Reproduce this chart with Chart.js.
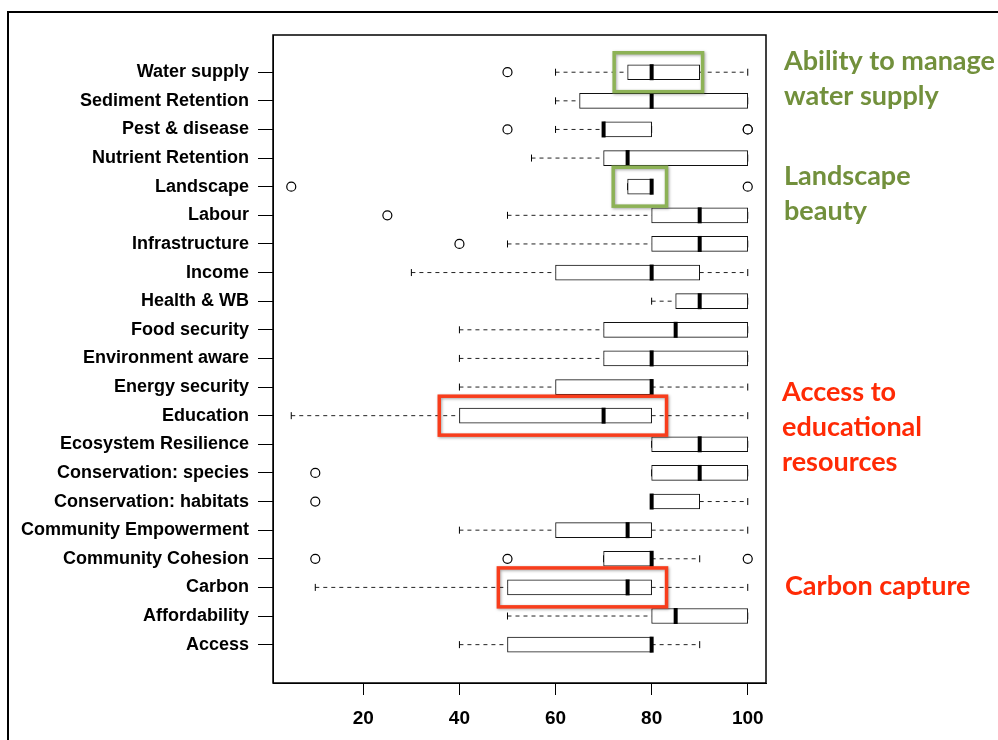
<!DOCTYPE html>
<html>
<head>
<meta charset="utf-8">
<script src="https://cdn.jsdelivr.net/npm/chart.js@4.4.0/dist/chart.umd.min.js"></script>
<style>
body { margin: 0; background: #fff; }
#c { display: block; }
</style>
</head>
<body>
<canvas id="c" width="998" height="740"></canvas>
<script>
// rows listed top to bottom, as in the picture
var categories = ['Water supply', 'Sediment Retention', 'Pest & disease', 'Nutrient Retention', 'Landscape',
  'Labour', 'Infrastructure', 'Income', 'Health & WB', 'Food security', 'Environment aware',
  'Energy security', 'Education', 'Ecosystem Resilience', 'Conservation: species',
  'Conservation: habitats', 'Community Empowerment', 'Community Cohesion', 'Carbon',
  'Affordability', 'Access'];
var whiskerLow  = [60, 60, 60, 55, 75, 50, 50, 30, 80, 40, 40, 40, 5, 80, 80, 80, 40, 70, 10, 50, 40];
var q1          = [75, 65, 70, 70, 75, 80, 80, 60, 85, 70, 70, 60, 40, 80, 80, 80, 60, 70, 50, 80, 50];
var medians     = [80, 80, 70, 75, 80, 90, 90, 80, 90, 85, 80, 80, 70, 90, 90, 80, 75, 80, 75, 85, 80];
var q3          = [90, 100, 80, 100, 80, 100, 100, 90, 100, 100, 100, 80, 80, 100, 100, 90, 80, 80, 80, 100, 80];
var whiskerHigh = [100, 100, 80, 100, 80, 100, 100, 100, 100, 100, 100, 100, 100, 100, 100, 100, 100, 90, 100, 100, 90];
var outliers    = [[50], [], [50, 100, 100], [], [5, 100], [25], [40], [], [], [], [], [], [], [], [10], [10], [], [10, 50, 100], [], [], []];
var xTicks = [20, 40, 60, 80, 100];

// highlighted rows and notes
var highlights = [
  { row: 'Water supply', from: 72.2, to: 90.6, color: '#8db256' },
  { row: 'Landscape', from: 72.0, to: 83.1, color: '#8db256' },
  { row: 'Education', from: 35.8, to: 83.1, color: '#f83d1c' },
  { row: 'Carbon', from: 48.1, to: 83.1, color: '#f83d1c' }
];
var notes = [
  { lines: ['Ability to manage', 'water supply'], color: '#72903c', x: 784, y: 70 },
  { lines: ['Landscape', 'beauty'], color: '#72903c', x: 784, y: 185 },
  { lines: ['Access to', 'educational', 'resources'], color: '#ff2a05', x: 782, y: 401 },
  { lines: ['Carbon capture'], color: '#ff2a05', x: 785, y: 595 }
];

var n = categories.length;
function rowOf(i) { return n - i; }

var boxData = [], medData = [], capData = [], whiskData = [], outData = [];
categories.forEach(function(c, i) {
  var r = rowOf(i);
  boxData.push({ x: [q1[i], q3[i]], y: r });
  medData.push({ x: medians[i], y: r });
  capData.push({ x: whiskerLow[i], y: r });
  capData.push({ x: whiskerHigh[i], y: r });
  if (whiskerLow[i] < q1[i]) {
    whiskData.push({ x: whiskerLow[i], y: r }, { x: q1[i], y: r }, { x: q1[i], y: null });
  }
  if (whiskerHigh[i] > q3[i]) {
    whiskData.push({ x: q3[i], y: r }, { x: whiskerHigh[i], y: r }, { x: whiskerHigh[i], y: null });
  }
  outliers[i].forEach(function(v) { outData.push({ x: v, y: r }); });
});

var extras = {
  id: 'extras',
  afterDraw: function(chart) {
    var ctx = chart.ctx, a = chart.chartArea;
    var xs = chart.scales.x, ys = chart.scales.y;
    ctx.save();
    // plot box
    ctx.strokeStyle = '#000';
    ctx.lineWidth = 1.5;
    ctx.strokeRect(a.left, a.top, a.right - a.left, a.bottom - a.top);
    // slide frame
    ctx.lineWidth = 2;
    ctx.beginPath();
    ctx.moveTo(8, 740);
    ctx.lineTo(8, 12);
    ctx.lineTo(998, 12);
    ctx.stroke();
    // highlight boxes
    highlights.forEach(function(h) {
      var r = rowOf(categories.indexOf(h.row));
      var x0 = xs.getPixelForValue(h.from), x1 = xs.getPixelForValue(h.to);
      var y0 = ys.getPixelForValue(r + 0.68), y1 = ys.getPixelForValue(r - 0.68);
      ctx.save();
      ctx.shadowColor = 'rgba(0,0,0,0.35)';
      ctx.shadowBlur = 3;
      ctx.shadowOffsetX = 1;
      ctx.shadowOffsetY = 1;
      ctx.strokeStyle = h.color;
      ctx.lineWidth = 3.5;
      ctx.strokeRect(x0, y0, x1 - x0, y1 - y0);
      ctx.restore();
    });
    // notes
    ctx.font = 'bold 27px Lato';
    ctx.textBaseline = 'alphabetic';
    ctx.textAlign = 'left';
    notes.forEach(function(t) {
      ctx.fillStyle = t.color;
      t.lines.forEach(function(l, k) {
        ctx.fillText(l, t.x, t.y + k * 35);
      });
    });
    ctx.restore();
  }
};

new Chart(document.getElementById('c'), {
  type: 'scatter',
  data: {
    datasets: [
      {
        type: 'scatter', data: outData, order: 0,
        pointStyle: 'circle', pointRadius: 4.5, pointBorderWidth: 1.2,
        pointBackgroundColor: '#fff', pointBorderColor: '#000'
      },
      {
        type: 'scatter', data: medData, order: 0,
        pointStyle: 'line', rotation: 90, pointRadius: 8, pointBorderWidth: 4,
        pointBorderColor: '#000'
      },
      {
        type: 'bar', data: boxData, indexAxis: 'y', order: 1,
        barThickness: 15, backgroundColor: '#fff', borderColor: '#111',
        borderWidth: 1, borderSkipped: false
      },
      {
        type: 'scatter', data: capData, order: 2,
        pointStyle: 'line', rotation: 90, pointRadius: 3.5, pointBorderWidth: 1,
        pointBorderColor: '#000'
      },
      {
        type: 'line', data: whiskData, order: 3,
        borderColor: '#222', borderWidth: 1, borderDash: [4, 4],
        pointRadius: 0, spanGaps: false, fill: false
      }
    ]
  },
  options: {
    responsive: false,
    animation: false,
    layout: { padding: { left: 0, top: 35, right: 232, bottom: 0 } },
    plugins: { legend: { display: false }, tooltip: { enabled: false } },
    scales: {
      x: {
        type: 'linear', min: 1.2, max: 103.8, offset: false,
        afterBuildTicks: function(s) { s.ticks = xTicks.map(function(v) { return { value: v }; }); },
        afterFit: function(s) { s.height = 57; },
        grid: { drawOnChartArea: false, drawTicks: true, tickLength: 12, color: '#000', offset: false },
        border: { display: true, color: '#000', width: 1 },
        ticks: { color: '#000', padding: 12, maxRotation: 0, autoSkip: false,
          font: { family: 'Liberation Sans', size: 19, weight: 'bold' } }
      },
      y: {
        type: 'linear', min: -0.34, max: n + 1.3, offset: false,
        afterBuildTicks: function(s) {
          s.ticks = categories.map(function(c, i) { return { value: rowOf(i) }; });
        },
        afterFit: function(s) { s.width = 273; },
        grid: { drawOnChartArea: false, drawTicks: true, tickLength: 15, color: '#000', offset: false },
        border: { display: true, color: '#000', width: 1 },
        ticks: {
          color: '#000', padding: 9, autoSkip: false,
          font: { family: 'Liberation Sans', size: 18, weight: 'bold' },
          callback: function(v) { return categories[n - v]; }
        }
      }
    }
  },
  plugins: [extras]
});
</script>
</body>
</html>
